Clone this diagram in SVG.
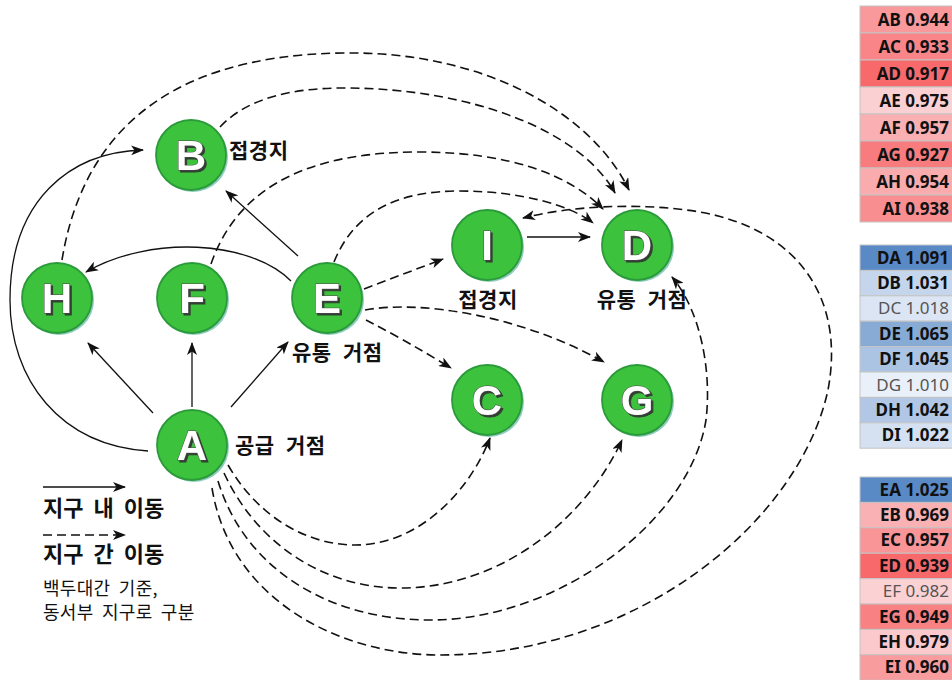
<svg xmlns="http://www.w3.org/2000/svg" width="952" height="680" viewBox="0 0 952 680">
  <style>
    .bg { fill: #ffffff; }
    .node-shadow { fill: #5fb7a6; opacity: 0.7; }
    .node-disc { fill: #3cc23c; stroke: #2b9a3a; stroke-width: 1.8; }
    .letter { font-family: "Liberation Sans", Arial, sans-serif; font-weight: 700; font-size: 42px; text-anchor: middle; fill: #ffffff; stroke: #4a4a4a; stroke-width: 1; paint-order: stroke; filter: url(#emboss); }
    .label { font-family: "Noto Sans CJK KR", "Noto Sans", sans-serif; font-weight: 700; font-size: 21px; fill: #111; letter-spacing: 0.5px; word-spacing: 6px; }
    .legend { font-family: "Noto Sans CJK KR", "Noto Sans", sans-serif; font-weight: 700; font-size: 22px; fill: #111; word-spacing: 5px; }
    .note { font-family: "Noto Sans CJK KR", "Noto Sans", sans-serif; font-weight: 400; font-size: 18px; fill: #111; word-spacing: 4px; letter-spacing: 0.3px; }
    .solid { fill: none; stroke: #111; stroke-width: 1.3; marker-end: url(#head); }
    .dash { fill: none; stroke: #111; stroke-width: 1.6; stroke-dasharray: 9 5; marker-end: url(#head); }
    .cell { stroke: #c4c4c4; stroke-width: 1; }
    .val { font-family: "Noto Sans", "Liberation Sans", sans-serif; font-size: 17px; text-anchor: end; }
    .strong { font-weight: 700; fill: #111; }
    .weak { font-weight: 400; fill: #555; }
  </style>
  <defs>
    <marker id="head" viewBox="0 0 13 10" refX="12" refY="5" markerWidth="13" markerHeight="10" markerUnits="userSpaceOnUse" orient="auto">
      <path d="M0,0 L13,5 L0,10 L3.5,5 Z" fill="#111"/>
    </marker>
    <filter id="emboss" x="-20%" y="-20%" width="150%" height="150%">
      <feDropShadow dx="2" dy="2" stdDeviation="0.4" flood-color="#333333" flood-opacity="0.9"/>
    </filter>
  </defs>

  <rect class="bg" x="0" y="0" width="952" height="680"/>

  <!-- connectors -->
  <g id="connectors">
    <!-- movement within a district -->
    <path class="solid" d="M153,413 L88,343"/>
    <path class="solid" d="M192,407 L192,343"/>
    <path class="solid" d="M231,407 L288,342"/>
    <path class="solid" d="M291,281 C250,240 150,235 86,272"/>
    <path class="solid" d="M298,256 L226,191"/>
    <path class="solid" d="M527,237 L590,237"/>
    <path class="solid" d="M148,451 C60,445 10,380 10,300 C10,200 70,152 143,150"/>

    <!-- movement between districts -->
    <path class="dash" d="M62,260 C80,150 150,55 344,53 C480,51 590,110 629,190"/>
    <path class="dash" d="M220,127 C250,95 300,88 344,88 C470,88 580,130 615,193"/>
    <path class="dash" d="M211,264 C240,180 320,152 419,152 C510,152 570,175 603,209"/>
    <path class="dash" d="M334,262 C355,210 400,191 459,191 C520,191 570,205 593,223"/>
    <path class="dash" d="M364,289 L443,259"/>
    <path class="dash" d="M366,320 Q405,340 451,368"/>
    <path class="dash" d="M365,310 C420,300 520,315 604,362"/>
    <path class="dash" d="M228,465 C260,520 310,545 355,545 C420,545 470,490 490,438"/>
    <path class="dash" d="M224,473 C260,550 330,588 400,588 C500,588 585,520 622,440"/>
    <path class="dash" d="M218,481 C245,570 330,620 430,620 C560,620 690,520 706,420 C712,370 700,310 672,277"/>
    <path class="dash" d="M212,488 C230,600 340,655 440,655 C640,655 800,520 828,390 C845,300 800,230 700,212 C640,202 570,206 523,218"/>
  </g>

  <!-- nodes -->
  <g id="node-B">
    <circle class="node-shadow" cx="193" cy="157" r="35"/>
    <circle class="node-disc" cx="191" cy="155" r="35"/>
    <text class="letter" x="191" y="170">B</text>
    <text class="label" x="229" y="158">접경지</text>
  </g>
  <g id="node-H">
    <circle class="node-shadow" cx="59" cy="300" r="35"/>
    <circle class="node-disc" cx="57" cy="298" r="35"/>
    <text class="letter" x="57" y="313">H</text>
  </g>
  <g id="node-F">
    <circle class="node-shadow" cx="194" cy="300" r="35"/>
    <circle class="node-disc" cx="192" cy="298" r="35"/>
    <text class="letter" x="192" y="313">F</text>
  </g>
  <g id="node-E">
    <circle class="node-shadow" cx="329" cy="300" r="35"/>
    <circle class="node-disc" cx="327" cy="298" r="35"/>
    <text class="letter" x="327" y="313">E</text>
    <text class="label" x="292" y="360">유통 거점</text>
  </g>
  <g id="node-I">
    <circle class="node-shadow" cx="489" cy="247" r="35"/>
    <circle class="node-disc" cx="487" cy="245" r="35"/>
    <text class="letter" x="487" y="260">I</text>
    <text class="label" x="488" y="307" text-anchor="middle">접경지</text>
  </g>
  <g id="node-D">
    <circle class="node-shadow" cx="639" cy="247" r="35"/>
    <circle class="node-disc" cx="637" cy="245" r="35"/>
    <text class="letter" x="637" y="260">D</text>
    <text class="label" x="642" y="307" text-anchor="middle">유통 거점</text>
  </g>
  <g id="node-C">
    <circle class="node-shadow" cx="489" cy="402" r="35"/>
    <circle class="node-disc" cx="487" cy="400" r="35"/>
    <text class="letter" x="487" y="415">C</text>
  </g>
  <g id="node-G">
    <circle class="node-shadow" cx="639" cy="402" r="35"/>
    <circle class="node-disc" cx="637" cy="400" r="35"/>
    <text class="letter" x="637" y="415">G</text>
  </g>
  <g id="node-A">
    <circle class="node-shadow" cx="194" cy="447" r="35"/>
    <circle class="node-disc" cx="192" cy="445" r="35"/>
    <text class="letter" x="192" y="460">A</text>
    <text class="label" x="235" y="453">공급 거점</text>
  </g>

  <!-- legend -->
  <g id="legend">
    <path class="solid" d="M43,487 L125,487"/>
    <text class="legend" x="43" y="516">지구 내 이동</text>
    <path class="dash" d="M43,535 L125,535"/>
    <text class="legend" x="43" y="562">지구 간 이동</text>
    <text class="note" x="43" y="595">백두대간 기준,</text>
    <text class="note" x="43" y="619">동서부 지구로 구분</text>
  </g>

  <!-- ratio tables -->
  <g id="table-A">
    <rect class="cell" x="860" y="6" width="95" height="27" fill="#F9999B"/>
    <rect class="cell" x="860" y="33" width="95" height="27" fill="#F98588"/>
    <rect class="cell" x="860" y="60" width="95" height="27" fill="#F8696B"/>
    <rect class="cell" x="860" y="87" width="95" height="27" fill="#FBD0D2"/>
    <rect class="cell" x="860" y="114" width="95" height="27" fill="#FAB0B2"/>
    <rect class="cell" x="860" y="141" width="95" height="27" fill="#F87B7D"/>
    <rect class="cell" x="860" y="168" width="95" height="27" fill="#FAABAD"/>
    <rect class="cell" x="860" y="195" width="95" height="27" fill="#F98E90"/>
    <text class="val strong" x="949" y="25.5">AB 0.944</text>
    <text class="val strong" x="949" y="52.5">AC 0.933</text>
    <text class="val strong" x="949" y="79.5">AD 0.917</text>
    <text class="val strong" x="949" y="106.5">AE 0.975</text>
    <text class="val strong" x="949" y="133.5">AF 0.957</text>
    <text class="val strong" x="949" y="160.5">AG 0.927</text>
    <text class="val strong" x="949" y="187.5">AH 0.954</text>
    <text class="val strong" x="949" y="214.5">AI 0.938</text>
  </g>
  <g id="table-D">
    <rect class="cell" x="860" y="245" width="95" height="25.4" fill="#5A8AC6"/>
    <rect class="cell" x="860" y="270.4" width="95" height="25.4" fill="#C5D5EC"/>
    <rect class="cell" x="860" y="295.8" width="95" height="25.4" fill="#DCE5F4"/>
    <rect class="cell" x="860" y="321.2" width="95" height="25.4" fill="#88ABD6"/>
    <rect class="cell" x="860" y="346.6" width="95" height="25.4" fill="#ACC4E3"/>
    <rect class="cell" x="860" y="372" width="95" height="25.4" fill="#EAF0F9"/>
    <rect class="cell" x="860" y="397.4" width="95" height="25.4" fill="#B1C7E5"/>
    <rect class="cell" x="860" y="422.8" width="95" height="25.4" fill="#D5E0F1"/>
    <text class="val strong" x="949" y="263.5">DA 1.091</text>
    <text class="val strong" x="949" y="288.9">DB 1.031</text>
    <text class="val weak" x="949" y="314.3">DC 1.018</text>
    <text class="val strong" x="949" y="339.7">DE 1.065</text>
    <text class="val strong" x="949" y="365.1">DF 1.045</text>
    <text class="val weak" x="949" y="390.5">DG 1.010</text>
    <text class="val strong" x="949" y="415.9">DH 1.042</text>
    <text class="val strong" x="949" y="441.3">DI 1.022</text>
  </g>
  <g id="table-E">
    <rect class="cell" x="860" y="477" width="95" height="25.4" fill="#5A8AC6"/>
    <rect class="cell" x="860" y="502.4" width="95" height="25.4" fill="#FAB1B4"/>
    <rect class="cell" x="860" y="527.8" width="95" height="25.4" fill="#F99497"/>
    <rect class="cell" x="860" y="553.2" width="95" height="25.4" fill="#F8696B"/>
    <rect class="cell" x="860" y="578.6" width="95" height="25.4" fill="#FBD1D3"/>
    <rect class="cell" x="860" y="604" width="95" height="25.4" fill="#F88183"/>
    <rect class="cell" x="860" y="629.4" width="95" height="25.4" fill="#FBC9CC"/>
    <rect class="cell" x="860" y="654.8" width="95" height="25.4" fill="#F99C9E"/>
    <text class="val strong" x="949" y="495.5">EA 1.025</text>
    <text class="val strong" x="949" y="520.9">EB 0.969</text>
    <text class="val strong" x="949" y="546.3">EC 0.957</text>
    <text class="val strong" x="949" y="571.7">ED 0.939</text>
    <text class="val weak" x="949" y="597.1">EF 0.982</text>
    <text class="val strong" x="949" y="622.5">EG 0.949</text>
    <text class="val strong" x="949" y="647.9">EH 0.979</text>
    <text class="val strong" x="949" y="673.3">EI 0.960</text>
  </g>
</svg>
